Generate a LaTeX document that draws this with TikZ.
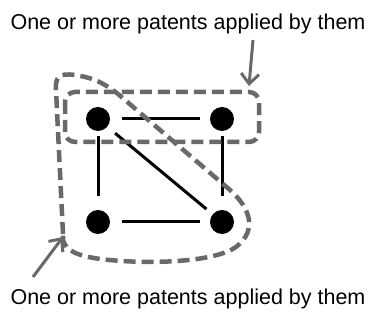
\documentclass[tikz,border=0pt]{standalone}
\usepackage{fontspec}
\setmainfont{Liberation Sans}
\usetikzlibrary{arrows.meta}
\definecolor{dgray}{RGB}{105,105,105}
\begin{document}
\begin{tikzpicture}[x=1pt,y=-1pt,
  dot/.style={circle,fill=black,inner sep=0pt,minimum size=24pt},
  edge/.style={line width=3pt,black},
  group/.style={dgray,line width=4.5pt,dash pattern=on 12pt off 6pt},
  pointer/.style={dgray,line width=3pt,-{Straight Barb[length=10pt,width=18pt,line width=3pt]}},
  label/.style={font=\fontsize{21.5}{24}\selectfont,inner sep=0pt}]
\useasboundingbox (0,0) rectangle (376,320);
\node[dot] (tl) at (98,119) {};
\node[dot] (tr) at (222,119) {};
\node[dot] (bl) at (98,222) {};
\node[dot] (br) at (222,222) {};
\draw[edge,shorten <=12pt,shorten >=10pt] (tl) -- (tr);
\draw[edge,shorten <=12pt,shorten >=10pt] (bl) -- (br);
\draw[edge,shorten <=5pt,shorten >=14pt] (tl) -- (bl);
\draw[edge,shorten <=5pt,shorten >=14pt] (tr) -- (br);
\draw[edge,shorten <=10pt,shorten >=8pt] (tl) -- (br);
\draw[group,rounded corners=10pt] (65,92) rectangle (259,142);
\draw[group] (63,234) -- (56,90) .. controls (55,76) and (60,73) .. (75,75)
  .. controls (95,78) and (105,84) .. (118,94) -- (230,190)
  .. controls (250,208) and (258,230) .. (236,247)
  .. controls (215,262) and (150,265) .. (100,259)
  .. controls (80,256) and (66,252) .. (63,240) -- cycle;
\node[label] (top) at (188,24) {One or more patents applied by them};
\node[label] (bot) at (188,299) {One or more patents applied by them};
\coordinate (t1) at (253,40);
\coordinate (t2) at (249,86);
\coordinate (b1) at (33,277);
\coordinate (b2) at (63,237);
\draw[pointer] (t1) -- (t2);
\draw[pointer] (b1) -- (b2);
\end{tikzpicture}
\end{document}
